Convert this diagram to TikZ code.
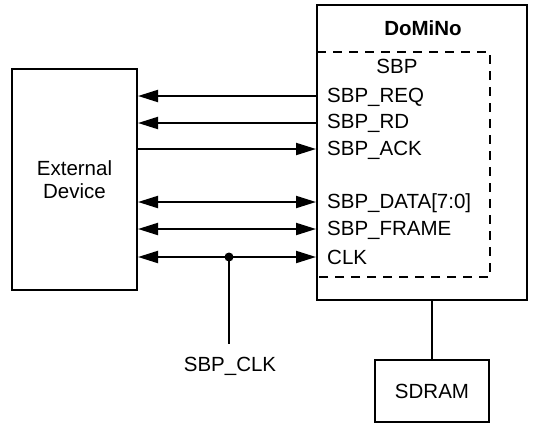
\documentclass[tikz,border=0pt]{standalone}
\usepackage{fontspec}
\setmainfont{Liberation Sans}
\usetikzlibrary{arrows.meta}
\tikzset{
  lbl/.style={font=\fontsize{20.5}{24}\selectfont, inner sep=0pt},
  box/.style={draw, line width=2pt, inner sep=0pt},
  sig/.style={line width=2pt, >={Triangle[length=20pt,width=12pt]}},
}
\begin{document}
\begin{tikzpicture}[x=1pt,y=-1pt]
\useasboundingbox (0,0) rectangle (536,424);
% main blocks
\node[box, minimum width=125pt, minimum height=221pt] (ext) at (74.5,179.5) {};
\node[lbl, align=center] (extlbl) at (ext.center) {External\\[-1pt]Device};
\node[box, minimum width=210pt, minimum height=295pt] (dom) at (422,152.5) {};
\node[lbl, font=\fontsize{20.5}{24}\selectfont\bfseries] (domlbl) at (423,28) {DoMiNo};
\node[box, minimum width=114pt, minimum height=62pt] (sdram) at (432,391) {};
\node[lbl] (sdramlbl) at (sdram.center) {SDRAM};
% SBP sub-block (dashed)
\coordinate (sbpnw) at (317,52);
\coordinate (sbpne) at (490,52);
\coordinate (sbpse) at (490,277);
\coordinate (sbpsw) at (317,277);
\draw[line width=2pt, dash pattern=on 9pt off 7pt] (sbpnw) -- (sbpne) -- (sbpse) -- (sbpsw);
\node[lbl] (sbp) at (397,66) {SBP};
% signal names
\node[lbl, anchor=west] (req) at (327,97) {SBP\_REQ};
\node[lbl, anchor=west] (rd) at (327,123) {SBP\_RD};
\node[lbl, anchor=west] (ack) at (327,150) {SBP\_ACK};
\node[lbl, anchor=west] (data) at (327,203) {SBP\_DATA[7:0]};
\node[lbl, anchor=west] (frame) at (327,230) {SBP\_FRAME};
\node[lbl, anchor=west] (clk) at (327,257) {CLK};
% signal rows
\coordinate (y1) at (0,96);
\coordinate (y2) at (0,123);
\coordinate (y3) at (0,149);
\coordinate (y4) at (0,202);
\coordinate (y5) at (0,229);
\coordinate (y6) at (0,257);
\draw[sig, <-] (ext.east |- y1) -- (dom.west |- y1);
\draw[sig, <-] (ext.east |- y2) -- (dom.west |- y2);
\draw[sig, ->] (ext.east |- y3) -- (dom.west |- y3);
\draw[sig, <->] (ext.east |- y4) -- (dom.west |- y4);
\draw[sig, <->] (ext.east |- y5) -- (dom.west |- y5);
\draw[sig, <->] (ext.east |- y6) -- (dom.west |- y6);
% clock tap
\coordinate (tap) at (229,257);
\coordinate (tapend) at (229,344);
\fill (tap) circle (4.5pt);
\draw[sig] (tap) -- (tapend);
\node[lbl] (sbpclk) at (230,366) {SBP\_CLK};
% memory link
\draw[sig] (dom.south -| sdram.north) -- (sdram.north);
\end{tikzpicture}
\end{document}
